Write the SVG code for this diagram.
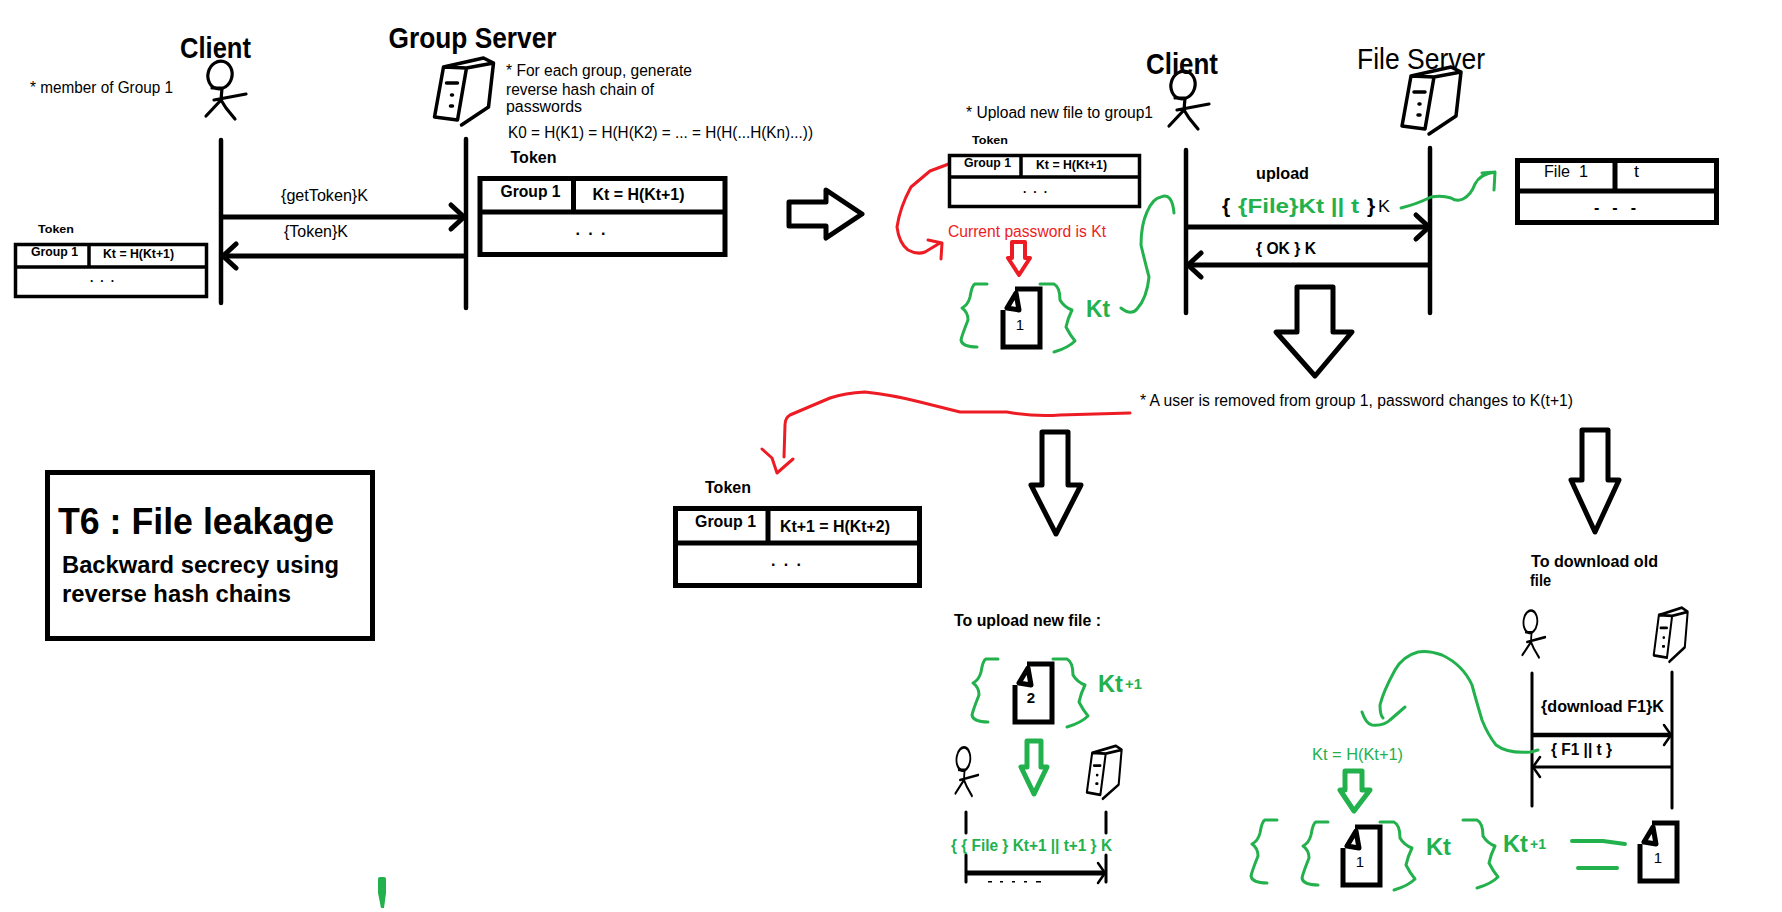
<svg xmlns="http://www.w3.org/2000/svg" width="1782" height="912" viewBox="0 0 1782 912">
<style>
text{font-family:"Liberation Sans",Arial,sans-serif;fill:#000;font-size:16px}
.b{font-weight:bold}
.gt{fill:#22b14c;font-weight:bold}
.rt{fill:#ed1c24}
.ink{fill:none;stroke:#000;stroke-linecap:round;stroke-linejoin:round}
.hol{fill:#fff;stroke:#000;stroke-width:5;stroke-linejoin:round}
.tb{fill:#fff;stroke:#000;stroke-width:5}
.tl{stroke:#000;stroke-width:5}
.gc{fill:none;stroke:#22b14c;stroke-width:3;stroke-linecap:round;stroke-linejoin:round}
.rc{fill:none;stroke:#ed1c24;stroke-width:3;stroke-linecap:round;stroke-linejoin:round}
.life{stroke:#000;stroke-width:4.5;stroke-linecap:round}
.msg{stroke:#000;stroke-width:5;fill:none}
</style>
<defs>
<marker id="head" markerUnits="userSpaceOnUse" markerWidth="34" markerHeight="34" refX="17" refY="17" orient="auto" overflow="visible"><path d="M4 5L17 17L4 29" fill="none" stroke="#000" stroke-width="5" stroke-linecap="round" stroke-linejoin="round"/></marker>
<marker id="heads" markerUnits="userSpaceOnUse" markerWidth="24" markerHeight="24" refX="12" refY="12" orient="auto" overflow="visible"><path d="M5 2L12 12L5 22" fill="none" stroke="#000" stroke-width="2.5" stroke-linecap="round" stroke-linejoin="round"/></marker>
<g id="stick" class="ink" stroke-width="3.2"><ellipse cx="220" cy="75" rx="12" ry="14" transform="rotate(15 220 75)"/><path d="M212 88H222L221 100L206 116M221 100L226 108L235 119M214 100L246 94"/></g>
<g id="server" class="ink" stroke-width="3.5"><path d="M446 67L469 68L460 120L437 117ZM446 67L486 58L496 63L469 68M496 63L491 107L464 125M449 83H460M454 95H455M453 106H455"/></g>
<g id="doc"><path d="M1016 289H1041V347H1004V310" fill="#fff" stroke="#000" stroke-width="5"/><path d="M1017 293L1008 308L1020 310Z" fill="#fff" stroke="#000" stroke-width="5" stroke-linejoin="round"/></g>
<path id="bl" class="gc" d="M987 284H975Q972 285 970 297Q968 305 962 308Q968 312 968 320Q962 335 961 340Q962 347 977 347"/>
<path id="br" class="gc" d="M1042 284H1056Q1062 287 1062 300Q1066 307 1074 310Q1070 318 1068 327Q1072 335 1077 341Q1070 348 1056 352"/>
</defs>
<rect width="1782" height="912" fill="#fff"/>

<g id="connectors">
<path class="life" d="M221 140V303M466 139V308M1186 150V313M1430 148V313"/>
<path class="msg" d="M221 217H464" marker-end="url(#head)"/>
<path class="msg" d="M466 256H223" marker-end="url(#head)"/>
<path class="msg" d="M1186 227H1429" marker-end="url(#head)"/>
<path class="msg" d="M1430 265H1188" marker-end="url(#head)"/>
<path class="life" style="stroke-width:3" d="M1532 673V806M1672 672V808M966 812V833M966 855V882M1106 812V833M1106 855V882"/>
<path class="msg" style="stroke-width:4.5" d="M1532 735H1671" marker-end="url(#heads)"/>
<path class="msg" style="stroke-width:3" d="M1672 767H1533" marker-end="url(#heads)"/>
<path class="msg" d="M966 873H1105" marker-end="url(#heads)"/>
<path class="hol" d="M789 202H826V190L862 214L826 238V226H789Z"/>
<path class="hol" d="M1297 287H1333V332H1352L1315 376L1276 332H1297Z"/>
<path class="hol" d="M1042 432H1068V485H1081L1056 534L1031 485H1042Z"/>
<path class="hol" d="M1582 430H1608V480H1619L1595 532L1571 480H1582Z"/>
<path class="rc" d="M954 162L930 171L911 187Q900 207 897 227Q899 243 908 250Q917 255 925 252L940 243M928 240L942 243L941 259"/>
<path class="hol" style="stroke:#ed1c24;stroke-width:4" d="M1012 242H1025V258H1030L1019 275L1008 258H1012Z"/>
<path class="gc" transform="translate(-3,0)" d="M1124 308Q1134 316 1140 309Q1150 298 1152 277Q1148 262 1144 245Q1144 225 1150 212Q1156 198 1164 197Q1175 192 1177 213"/>
<path class="gc" transform="translate(-3,0)" d="M1404 208Q1420 204 1434 197Q1445 195 1454 198Q1460 202 1466 199Q1474 195 1478 184Q1483 174 1498 172M1485 173L1498 172L1497 190"/>
<path class="rc" d="M1130 413L1060 415Q1035 417 1007 412L960 412L920 402Q893 395 865 392Q845 393 830 398L790 415Q785 418 785 425L784 457M762 449L772 458L777 473L793 459"/>
<path class="gc" transform="translate(-2,0)" d="M1540 750L1533 752Q1510 754 1498 745Q1490 735 1484 720Q1478 700 1474 685Q1465 665 1444 655Q1430 650 1420 652Q1405 656 1397 670Q1385 692 1382 705Q1382 715 1385 718M1364 712Q1368 724 1374 725Q1386 726 1392 720L1407 707"/>
<path class="hol" style="stroke:#22b14c" d="M1027 741H1041V767H1047L1034 794L1021 767H1027Z"/>
<path class="hol" style="stroke:#22b14c" d="M1345 771H1362V790H1370L1354 811L1340 790H1345Z"/>
<path class="gc" style="stroke-width:4" d="M1572 841H1603L1625 844M1578 868H1617"/>
<path d="M378 879Q378 877 380 877H384Q386 877 386 879V893L384 908H381L378 893Z" fill="#22b14c"/>
<path d="M988 881h4v1.5h-4zM1000 881h3v1.5h-3zM1012 881h3v1.5h-3zM1024 881h3v1.5h-3zM1036 881h5v1.5h-5z" fill="#000"/>
</g>

<g id="client-a"><use href="#stick"/><text class="b" x="180" y="58" style="font-size:30px" textLength="71" lengthAdjust="spacingAndGlyphs">Client</text></g>
<g id="group-server" transform="translate(-2.5,0)"><use href="#server"/><text class="b" x="391" y="48" style="font-size:30px" textLength="168" lengthAdjust="spacingAndGlyphs">Group Server</text></g>

<g id="notes-a">
<text x="30" y="93" textLength="143" lengthAdjust="spacingAndGlyphs">* member of Group 1</text>
<text x="506" y="76" textLength="186" lengthAdjust="spacingAndGlyphs">* For each group, generate</text>
<text x="506" y="95" textLength="148" lengthAdjust="spacingAndGlyphs">reverse hash chain of</text>
<text x="506" y="112" textLength="76" lengthAdjust="spacingAndGlyphs">passwords</text>
<text x="508" y="138" textLength="305" lengthAdjust="spacingAndGlyphs">K0 = H(K1) = H(H(K2) = ... = H(H(...H(Kn)...))</text>
<text x="281" y="201" textLength="87" lengthAdjust="spacingAndGlyphs">{getToken}K</text>
<text x="284" y="237" textLength="64" lengthAdjust="spacingAndGlyphs">{Token}K</text>
</g>

<g id="token-server" transform="translate(-2.5,0)">
<text class="b" x="513" y="163" textLength="46" lengthAdjust="spacingAndGlyphs">Token</text>
<rect class="tb" x="482.5" y="178.5" width="245" height="76"/>
<path class="tl" d="M482 212H728M576 178V212"/>
<text class="b" x="503" y="197" textLength="60" lengthAdjust="spacingAndGlyphs">Group 1</text>
<text class="b" x="595" y="200" textLength="92" lengthAdjust="spacingAndGlyphs">Kt = H(Kt+1)</text>
<text class="b" x="578" y="235" textLength="30" lengthAdjust="spacing">. . .</text>
</g>

<g id="token-client">
<text class="b" x="38" y="233" style="font-size:11px" textLength="36" lengthAdjust="spacingAndGlyphs">Token</text>
<rect x="15.5" y="244.5" width="191" height="52" fill="#fff" stroke="#000" stroke-width="3.5"/>
<path d="M15 267H207M89 244V267" stroke="#000" stroke-width="3.5"/>
<text class="b" x="31" y="256" style="font-size:12px" textLength="47" lengthAdjust="spacingAndGlyphs">Group 1</text>
<text class="b" x="103" y="258" style="font-size:12px" textLength="71" lengthAdjust="spacingAndGlyphs">Kt = H(Kt+1)</text>
<text class="b" x="90" y="282" style="font-size:12px" textLength="24" lengthAdjust="spacing">. . .</text>
</g>

<g id="client-b" transform="translate(-2,0)"><use href="#stick" transform="translate(965,10)"/><text class="b" x="1148" y="74" style="font-size:30px" textLength="72" lengthAdjust="spacingAndGlyphs">Client</text></g>
<g id="file-server" transform="translate(-3,0)"><use href="#server" transform="translate(968,9)"/><text x="1360" y="69" style="font-size:30px" textLength="128" lengthAdjust="spacingAndGlyphs">File Server</text></g>

<g id="notes-b">
<text x="966" y="118" textLength="187" lengthAdjust="spacingAndGlyphs">* Upload new file to group1</text>
<text class="b" x="1256" y="179" textLength="53" lengthAdjust="spacingAndGlyphs">upload</text>
<text class="b" x="1222" y="213" style="font-size:21px">{</text>
<text class="gt" x="1238" y="213" style="font-size:21px" textLength="121" lengthAdjust="spacingAndGlyphs">{File}Kt || t</text>
<text class="b" x="1367" y="213" style="font-size:21px">}</text>
<text x="1378" y="212" textLength="12" lengthAdjust="spacingAndGlyphs">K</text>
<text class="b" x="1256" y="254" textLength="60" lengthAdjust="spacingAndGlyphs">{ OK } K</text>
<text class="rt" x="948" y="237" textLength="158" lengthAdjust="spacingAndGlyphs">Current password is Kt</text>
<text x="1140" y="406" textLength="433" lengthAdjust="spacingAndGlyphs">* A user is removed from group 1, password changes to K(t+1)</text>
</g>

<g id="token-client-b" transform="translate(-1,0)">
<text class="b" x="973" y="144" style="font-size:11px" textLength="36" lengthAdjust="spacingAndGlyphs">Token</text>
<rect x="950.5" y="155.5" width="190" height="51" fill="#fff" stroke="#000" stroke-width="3.5"/>
<path d="M950 177H1141M1022 155V177" stroke="#000" stroke-width="3.5"/>
<text class="b" x="965" y="167" style="font-size:12px" textLength="47" lengthAdjust="spacingAndGlyphs">Group 1</text>
<text class="b" x="1037" y="169" style="font-size:12px" textLength="71" lengthAdjust="spacingAndGlyphs">Kt = H(Kt+1)</text>
<text class="b" x="1024" y="193" style="font-size:12px" textLength="24" lengthAdjust="spacing">. . .</text>
</g>

<g id="file-encrypted-a">
<use href="#bl"/><use href="#br" transform="translate(-2,0)"/><use href="#doc" transform="translate(-1,0)"/>
<text x="1020" y="330" text-anchor="middle" style="font-size:15px" fill="#1f2a44">1</text>
<text class="gt" x="1086" y="317" style="font-size:23px" textLength="24" lengthAdjust="spacingAndGlyphs">Kt</text>
</g>

<g id="file-table" transform="translate(-3,0)">
<rect x="1520.5" y="160.5" width="199" height="62" fill="#fff" stroke="#000" stroke-width="5"/>
<path class="tl" d="M1520 191H1720M1618 160V191"/>
<text x="1547" y="177" textLength="44" lengthAdjust="spacingAndGlyphs" xml:space="preserve">File  1</text>
<text x="1637" y="177" textLength="5" lengthAdjust="spacingAndGlyphs">t</text>
<text class="b" x="1597" y="213" textLength="42" lengthAdjust="spacing">- - -</text>
</g>

<g id="t6-box">
<rect x="47.5" y="472.5" width="325" height="166" fill="#fff" stroke="#000" stroke-width="5"/>
<text class="b" x="58" y="534" style="font-size:36px" textLength="276" lengthAdjust="spacingAndGlyphs">T6 : File leakage</text>
<text class="b" x="62" y="573" style="font-size:23px" textLength="277" lengthAdjust="spacingAndGlyphs">Backward secrecy using</text>
<text class="b" x="62" y="602" style="font-size:23px" textLength="229" lengthAdjust="spacingAndGlyphs">reverse hash chains</text>
</g>

<g id="token-new">
<text class="b" x="705" y="493" textLength="46" lengthAdjust="spacingAndGlyphs">Token</text>
<rect class="tb" x="675.5" y="508.5" width="244" height="77"/>
<path class="tl" d="M675 543H920M768 508V543"/>
<text class="b" x="695" y="527" textLength="61" lengthAdjust="spacingAndGlyphs">Group 1</text>
<text class="b" x="780" y="532" textLength="110" lengthAdjust="spacingAndGlyphs">Kt+1 = H(Kt+2)</text>
<text class="b" x="771" y="566" textLength="30" lengthAdjust="spacing">. . .</text>
</g>

<g id="upload-new" transform="translate(-1,0)">
<text class="b" x="955" y="626" textLength="147" lengthAdjust="spacingAndGlyphs">To upload new file :</text>
<g transform="translate(12,375)"><use href="#bl"/><use href="#br"/><use href="#doc"/></g>
<text class="b" x="1032" y="703" text-anchor="middle" style="font-size:15px">2</text>
<text class="gt" x="1099" y="692" style="font-size:23px" textLength="25" lengthAdjust="spacingAndGlyphs">Kt</text>
<text class="gt" x="1126" y="689" style="font-size:15px" textLength="17" lengthAdjust="spacingAndGlyphs">+1</text>
<use href="#stick" transform="translate(839,696) scale(.57,.84)"/>
<use href="#server" transform="translate(830,700) scale(.59,.79)"/>
<text class="gt" x="952" y="851" textLength="161" lengthAdjust="spacingAndGlyphs">{ { File } Kt+1 || t+1 } K</text>
</g>

<g id="download-old" transform="translate(-3,0)">
<text class="b" x="1534" y="567" textLength="127" lengthAdjust="spacingAndGlyphs">To download old</text>
<text class="b" x="1533" y="586" textLength="21" lengthAdjust="spacingAndGlyphs">file</text>
<use href="#stick" transform="translate(1408,561) scale(.57,.81)"/>
<use href="#server" transform="translate(1405,561) scale(.576,.806)"/>
<text class="b" x="1544" y="712" textLength="123" lengthAdjust="spacingAndGlyphs">{download F1}K</text>
<text class="b" x="1554" y="755" textLength="61" lengthAdjust="spacingAndGlyphs">{ F1 || t }</text>
</g>
<g id="hash-label">
<text class="gt" style="font-weight:normal" x="1312" y="760" textLength="91" lengthAdjust="spacingAndGlyphs">Kt = H(Kt+1)</text>
</g>

<g id="double-encrypted">
<use href="#bl" transform="translate(290,536)"/>
<use href="#br" transform="translate(421,536)"/>
<use href="#bl" transform="translate(341,538)"/>
<use href="#br" transform="translate(338,538)"/>
<use href="#doc" transform="translate(339,538)"/>
<text x="1360" y="867" text-anchor="middle" style="font-size:15px" fill="#1f2a44">1</text>
<text class="gt" x="1426" y="855" style="font-size:23px" textLength="25" lengthAdjust="spacingAndGlyphs">Kt</text>
<text class="gt" x="1503" y="852" style="font-size:23px" textLength="25" lengthAdjust="spacingAndGlyphs">Kt</text>
<text class="gt" x="1530" y="849" style="font-size:15px" textLength="16" lengthAdjust="spacingAndGlyphs">+1</text>
</g>

<g id="file-plain" transform="translate(-2,0)">
<use href="#doc" transform="translate(638,534)"/>
<text x="1660" y="863" text-anchor="middle" style="font-size:15px" fill="#1f2a44">1</text>
</g>
</svg>
